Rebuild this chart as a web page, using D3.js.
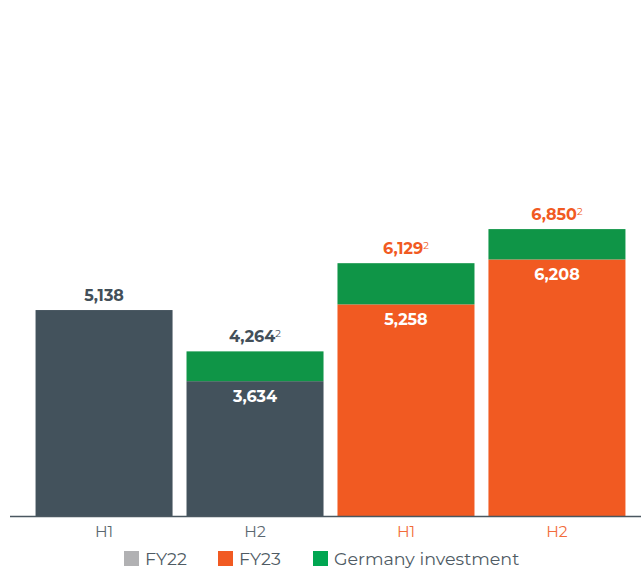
<!DOCTYPE html>
<html>
<head>
<meta charset="utf-8">
<script src="https://cdn.jsdelivr.net/npm/d3@7"></script>
<style>
  body { margin: 0; background: #fff; }
  svg { display: block; font-family: 'Montserrat', 'Open Sans', sans-serif; }
</style>
</head>
<body>
<div id="chart"></div>
<script>
const categories = ['H1', 'H2', 'H1', 'H2']
const years = ['FY22', 'FY22', 'FY23', 'FY23']
const baseValues = [5138, 3634, 5258, 6208]
const totalValues = [5138, 4264, 6129, 6850]
const hasNote = [false, true, true, true]
const legendItems = ['FY22', 'FY23', 'Germany investment']

const width = 641
const height = 569
const baseline = 516

const color = { FY22: '#43525c', FY23: '#f15a22', germany: '#0f9547' }
const labelColor = { FY22: '#434f59', FY23: '#f15a22' }
const legendColor = ['#b1b1b3', '#f15a22', '#00a651']

const svg = d3.select('#chart')
  .append('svg')
  .attr('width', width)
  .attr('height', height)

const x = d3.scaleBand()
  .domain(d3.range(categories.length))
  .range([28, 633])
  .paddingInner(0.0925)
  .paddingOuter(0.05)

// chart is not zero-based: the axis sits a bit above zero
const y = d3.scaleLinear()
  .domain([0, 7000])
  .range([553, 222])

const data = categories.map((c, i) => ({
  i,
  cat: c,
  year: years[i],
  base: baseValues[i],
  total: totalValues[i],
  note: hasNote[i]
}))

const bars = svg.append('g').selectAll('g')
  .data(data)
  .join('g')
  .attr('transform', d => `translate(${x(d.i)},0)`)

bars.append('rect')
  .attr('y', d => y(d.base))
  .attr('width', x.bandwidth())
  .attr('height', d => baseline - y(d.base))
  .attr('fill', d => color[d.year])

bars.filter(d => d.total > d.base)
  .append('rect')
  .attr('y', d => y(d.total))
  .attr('width', x.bandwidth())
  .attr('height', d => y(d.base) - y(d.total))
  .attr('fill', color.germany)

// total label above bar
const totalLabel = bars.append('text')
  .attr('x', x.bandwidth() / 2)
  .attr('y', d => y(d.total) - 9)
  .attr('text-anchor', 'middle')
  .attr('fill', d => labelColor[d.year])
  .style('font-size', '16px')
  .style('font-weight', 700)

totalLabel.append('tspan').text(d => d3.format(',')(d.total))
totalLabel.filter(d => d.note)
  .append('tspan')
  .attr('dy', -5)
  .style('font-size', '10px')
  .style('font-weight', 400)
  .text('2')

// base label inside bar
bars.filter(d => d.total > d.base)
  .append('text')
  .attr('x', x.bandwidth() / 2)
  .attr('y', d => y(d.base) + 21)
  .attr('text-anchor', 'middle')
  .attr('fill', '#fff')
  .style('font-size', '16px')
  .style('font-weight', 700)
  .text(d => d3.format(',')(d.base))

// axis
svg.append('line')
  .attr('x1', 10).attr('x2', width)
  .attr('y1', baseline + 0.5).attr('y2', baseline + 0.5)
  .attr('stroke', '#4a5760')
  .attr('stroke-width', 1.5)

svg.append('g').selectAll('text')
  .data(data)
  .join('text')
  .attr('x', d => x(d.i) + x.bandwidth() / 2)
  .attr('y', 537)
  .attr('text-anchor', 'middle')
  .attr('fill', d => d.year === 'FY23' ? '#f26b3a' : '#5b6770')
  .style('font-size', '15.5px')
  .text(d => d.cat)

// legend
const legendX = [124, 218, 313]
const legend = svg.append('g').selectAll('g')
  .data(legendItems)
  .join('g')
  .attr('transform', (d, i) => `translate(${legendX[i]},551)`)

legend.append('rect')
  .attr('width', 15)
  .attr('height', 15)
  .attr('fill', (d, i) => legendColor[i])

legend.append('text')
  .attr('x', 21)
  .attr('y', 14)
  .attr('fill', '#4f5b64')
  .style('font-size', '17.5px')
  .text(d => d)
</script>
</body>
</html>
